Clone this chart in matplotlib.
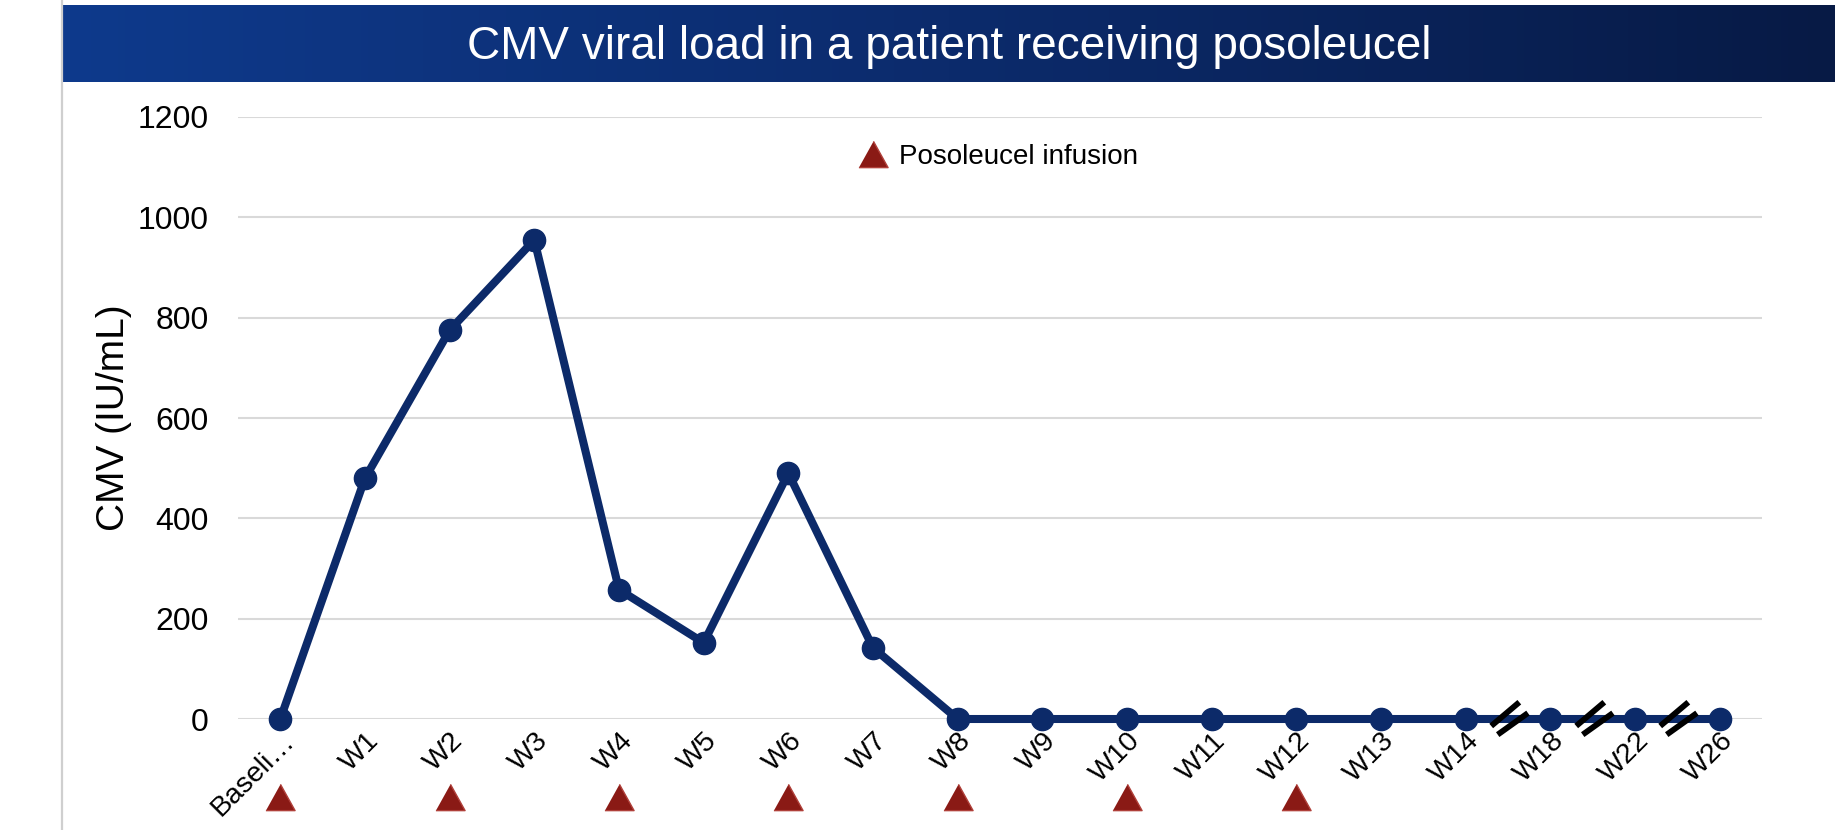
import numpy as np
import matplotlib
matplotlib.use("Agg")
import matplotlib.pyplot as plt
from matplotlib.path import Path
from matplotlib.lines import Line2D
from matplotlib.colors import LinearSegmentedColormap
from matplotlib.transforms import ScaledTranslation

plt.rcParams['font.family'] = ['Liberation Sans', 'DejaVu Sans']

# ---- data ----
categories = ["Baseli\u2026", "W1", "W2", "W3", "W4", "W5", "W6", "W7", "W8", "W9",
              "W10", "W11", "W12", "W13", "W14", "W18", "W22", "W26"]
cmv = [0, 480, 775, 955, 258, 152, 490, 142, 0, 0, 0, 0, 0, 0, 0, 0, 0, 0]
infusion_weeks = ["Baseli\u2026", "W2", "W4", "W6", "W8", "W10", "W12"]
axis_breaks_after = ["W14", "W18", "W22"]
y_ticks = [0, 200, 400, 600, 800, 1000, 1200]
title = "CMV viral load in a patient receiving posoleucel"
y_label = "CMV (IU/mL)"
legend_label = "Posoleucel infusion"

W, H = 1835, 830
fig = plt.figure(figsize=(W / 100, H / 100), dpi=100)
fig.patch.set_facecolor("white")

# slide left border line
fig.add_artist(Line2D([62 / W, 62 / W], [0, 1], color="#cfcfcf", lw=1.6))

# title bar with gradient
bar_ax = fig.add_axes([63 / W, 1 - 82 / H, 1 - 63 / W, 77 / H])
cmap = LinearSegmentedColormap.from_list("bar", ["#0e3a8c", "#0c2b6c", "#071a45"])
bar_ax.imshow(np.linspace(0, 1, 512)[None, :], aspect="auto", cmap=cmap,
              extent=[0, 1, 0, 1])
bar_ax.set_axis_off()
bar_ax.text(0.5, 0.46, title, color="white", fontsize=33, ha="center", va="center",
            transform=bar_ax.transAxes)

# main axes
ax = fig.add_axes([238 / W, 1 - 719 / H, (1762 - 238) / W, (719 - 117) / H])
x = np.arange(len(categories))
ax.set_xlim(-0.5, len(categories) - 0.5)
ax.set_ylim(0, 1200)
ax.set_yticks(y_ticks)
ax.set_yticklabels([str(v) for v in y_ticks])
ax.grid(axis="y", color="#d9d9d9", lw=1.5, zorder=0)
ax.set_axisbelow(True)
for s in ax.spines.values():
    s.set_visible(False)
ax.tick_params(axis="y", length=0, pad=21, labelsize=23)
ax.tick_params(axis="x", length=0, pad=13, labelsize=20.5)
ax.set_xticks(x)
ax.set_xticklabels(categories)
shift = ScaledTranslation(7 / 72, 0, fig.dpi_scale_trans)
for lab in ax.get_xticklabels():
    lab.set_rotation(45)
    lab.set_ha("right")
    lab.set_va("center")
    lab.set_rotation_mode("anchor")
    lab.set_transform(lab.get_transform() + shift)
ax.set_ylabel(y_label, fontsize=28, labelpad=4)

navy = "#0c2a69"
ax.plot(x, cmv, color=navy, lw=5.8, marker="o", ms=16, zorder=3,
        solid_joinstyle="round", clip_on=False)

# axis break marks
brk = Path([(-16, -6), (10, 16), (-10, -14), (18, 6)],
           [Path.MOVETO, Path.LINETO, Path.MOVETO, Path.LINETO])
bx = [categories.index(c) + 0.5 for c in axis_breaks_after]
ax.plot(bx, [0] * len(bx), ls="none", marker=brk, ms=28, mfc="none",
        mec="black", mew=4.2, zorder=4, clip_on=False)

# infusion triangles under the axis
tri = [(-1, -0.9), (1, -0.9), (0, 0.9)]
ix = [categories.index(c) for c in infusion_weeks]
ax.plot(ix, [-155] * len(ix), ls="none", marker=tri, ms=21, mfc="#8a1a15",
        mec="#b0403a", mew=1, clip_on=False, zorder=5)

# legend
h = Line2D([], [], ls="none", marker=tri, ms=21, mfc="#8a1a15", mec="#b0403a", mew=1)
ax.legend([h], [legend_label], loc="center left", bbox_to_anchor=(0.4075, 0.9336),
          frameon=False, fontsize=20, handlelength=1.0, handletextpad=0.43,
          borderpad=0, borderaxespad=0)

fig.savefig("out.png", dpi=100)
